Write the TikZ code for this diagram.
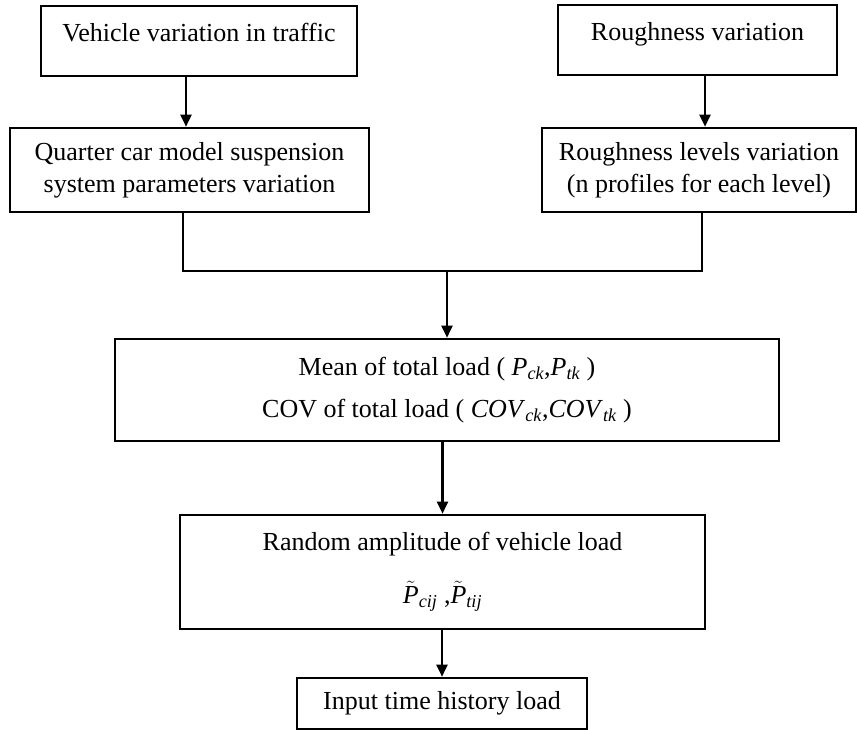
\documentclass[tikz,border=0pt]{standalone}
\usepackage{amsmath}
\usepackage[no-math]{fontspec}
\setmainfont{Liberation Serif}
\usetikzlibrary{arrows.meta,positioning,calc}
\tikzset{
  box/.style  = {rectangle, draw=black, line width=2.6pt, inner sep=0pt,
                 align=center, font=\fontsize{26}{32}\selectfont},
  tbox/.style = {rectangle, draw=black, line width=2.6pt, inner sep=0pt,
                 text height=36pt, text depth=34pt, font=\fontsize{26}{32}\selectfont},
  arr/.style  = {-{Triangle[length=12pt,width=11pt]}, line width=2.4pt},
  link/.style = {line width=2.4pt},
}
\newcommand{\itsub}[2]{\textit{#1}\textsubscript{\itshape #2}}
\newcommand{\tilsub}[2]{$\tilde{\text{\itshape #1}}$\textsubscript{\itshape #2}}

\begin{document}
\begin{tikzpicture}[x=1pt, y=-1pt]
\useasboundingbox (0,0) rectangle (857,730);

%% top row
\node[tbox, minimum width=316pt, minimum height=70pt] (veh) at (199,41)
  {Vehicle variation in traffic};
\node[tbox, minimum width=279pt, minimum height=70pt] (rgh) at (697.5,40)
  {Roughness variation};

%% second row
\node[box, minimum width=359pt, minimum height=84pt] (qcm) at (189.5,170)
  {Quarter car model suspension\\system parameters variation};
\node[box, minimum width=314pt, minimum height=84pt] (rlev) at (699,170)
  {Roughness levels variation\\(n profiles for each level)};

%% load statistics
\node[box, minimum width=664pt, minimum height=102pt] (mean) at (447,390)
  {Mean of total load ( \itsub{P}{ck},\itsub{P}{tk} )\\[10pt]
   COV of total load ( \itsub{COV}{ck},\itsub{COV}{tk} )};
\node[box, minimum width=525pt, minimum height=114pt] (ramp) at (442.5,572)
  {Random amplitude of vehicle load\\[21pt]
   \tilsub{P}{cij}\ ,\tilsub{P}{tij}};
\node[box, minimum width=290pt, minimum height=51pt] (inp) at (442,703.5)
  {Input time history load};

\coordinate (jn) at (447,271);

%% arrows
\draw[arr] ([xshift=-13pt]veh.south) -- ([xshift=-13pt]veh.south |- qcm.north);
\draw[arr] ([xshift=7.5pt]rgh.south) -- ([xshift=7.5pt]rgh.south |- rlev.north);
\draw[link] ([xshift=-6.5pt]qcm.south) |- (jn) -| ([xshift=3pt]rlev.south);
\draw[arr] (jn) -- (mean.north);
\draw[arr] (mean.south -| ramp.north) -- (ramp.north);
\draw[arr] (ramp.south -| inp.north) -- (inp.north);

\end{tikzpicture}
\end{document}
